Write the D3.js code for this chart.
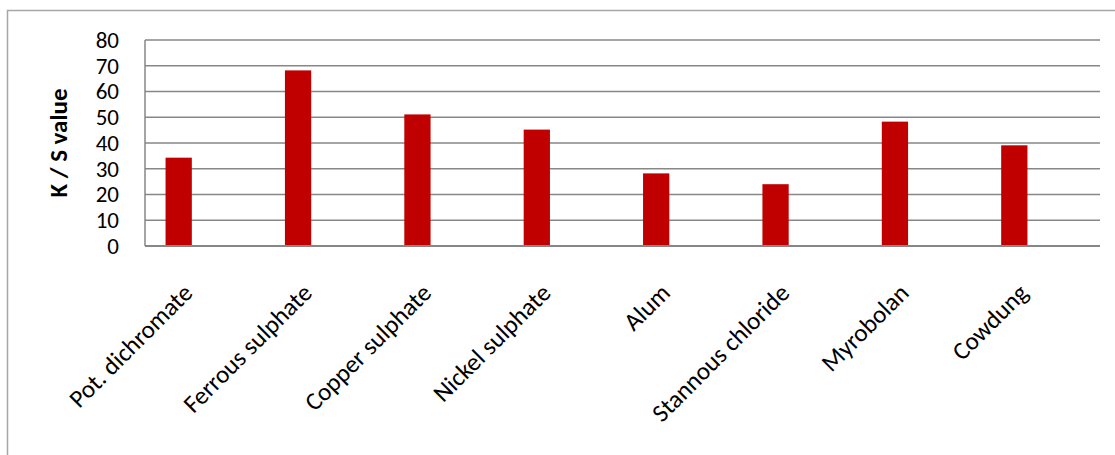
<!DOCTYPE html>
<html>
<head>
<meta charset="utf-8">
<script src="https://cdn.jsdelivr.net/npm/d3@7"></script>
<style>
  body { margin: 0; background: #fff; }
  svg { display: block; }
</style>
</head>
<body>
<div id="chart"></div>
<script>
// values
var categories = ['Pot. dichromate', 'Ferrous sulphate', 'Copper sulphate', 'Nickel sulphate',
                  'Alum', 'Stannous chloride', 'Myrobolan', 'Cowdung'];
var ksValues = [34.3, 68.2, 51.1, 45.2, 28.2, 24.0, 48.3, 39.1];
var yTicks = [0, 10, 20, 30, 40, 50, 60, 70, 80];

var width = 1115, height = 455;
var fontFam = 'Carlito, Calibri, "Open Sans", sans-serif';

var svg = d3.select('#chart').append('svg')
	.attr('width', width)
	.attr('height', height);

// outer chart border (only top and left visible)
svg.append('path')
	.attr('d', 'M7.5,455 V10.5 H1115')
	.attr('fill', 'none')
	.attr('stroke', '#a6a6a6')
	.attr('stroke-width', 1.5);

var plotLeft = 145, plotRight = 1100, plotTop = 40, plotBottom = 246;

var y = d3.scaleLinear().domain([0, 80]).range([plotBottom, plotTop]);
// categories sit slightly left of the gridded area, as in the original
var x = d3.scaleBand().domain(categories).range([119, 1074]).paddingInner(0.78).paddingOuter(0.39);

// gridlines
svg.append('g').selectAll('line')
	.data(yTicks)
	.enter().append('line')
	.attr('x1', plotLeft).attr('x2', plotRight)
	.attr('y1', function(d) { return y(d); })
	.attr('y2', function(d) { return y(d); })
	.attr('stroke', '#878787')
	.attr('stroke-width', 1.5);

// vertical axis line
svg.append('line')
	.attr('x1', plotLeft).attr('x2', plotLeft)
	.attr('y1', plotTop).attr('y2', plotBottom)
	.attr('stroke', '#878787')
	.attr('stroke-width', 1.5);

// y tick labels
svg.append('g').selectAll('text')
	.data(yTicks)
	.enter().append('text')
	.attr('x', 119)
	.attr('y', function(d) { return y(d); })
	.attr('dy', '0.34em')
	.attr('text-anchor', 'end')
	.style('font-family', fontFam)
	.style('font-size', '23px')
	.style('fill', '#000')
	.text(function(d) { return d; });

// bars
svg.append('g').selectAll('rect')
	.data(ksValues)
	.enter().append('rect')
	.attr('x', function(d, i) { return x(categories[i]); })
	.attr('y', function(d) { return y(d); })
	.attr('width', x.bandwidth())
	.attr('height', function(d) { return y(0) - y(d); })
	.attr('fill', '#c00000');

// bottom axis line on top of bars
svg.append('line')
	.attr('x1', plotLeft).attr('x2', plotRight)
	.attr('y1', plotBottom).attr('y2', plotBottom)
	.attr('stroke', '#878787')
	.attr('stroke-width', 2);

// category labels, rotated
svg.append('g').selectAll('text')
	.data(categories)
	.enter().append('text')
	.attr('transform', function(d) {
		var cx = x(d) + x.bandwidth() / 2 + 3;
		return 'translate(' + cx + ',282) rotate(-45)';
	})
	.attr('text-anchor', 'end')
	.attr('dy', '0.7em')
	.style('font-family', fontFam)
	.style('font-size', '25px')
	.style('fill', '#000')
	.text(function(d) { return d; });

// y axis title
svg.append('text')
	.attr('transform', 'translate(67,' + ((plotTop + plotBottom) / 2) + ') rotate(-90)')
	.attr('text-anchor', 'middle')
	.style('font-family', fontFam)
	.style('font-size', '25px')
	.style('font-weight', 'bold')
	.style('fill', '#000')
	.text('K / S value');
</script>
</body>
</html>
